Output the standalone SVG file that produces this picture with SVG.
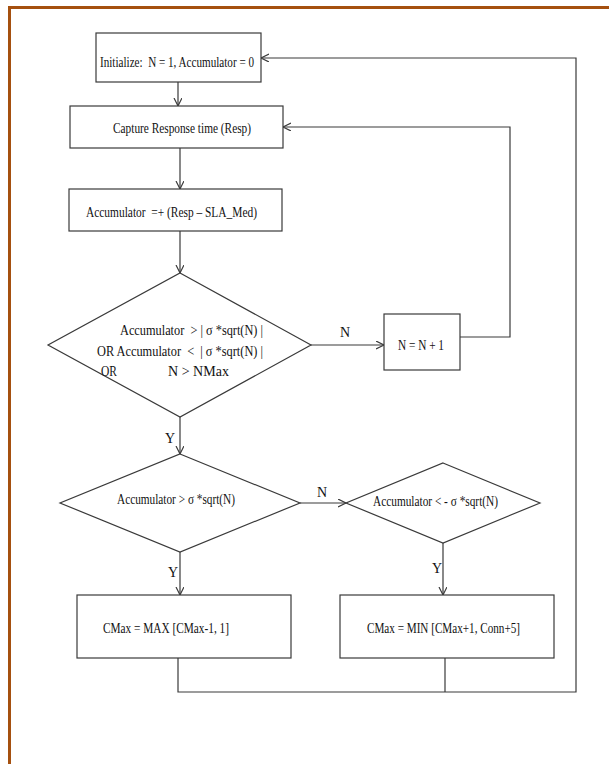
<svg xmlns="http://www.w3.org/2000/svg" width="609" height="764" viewBox="0 0 609 764">
<style>
.box{fill:#fff;stroke:#3a3a3a;stroke-width:1.2}
.ln{fill:none;stroke:#3a3a3a;stroke-width:1.2}
.t{font-family:"Liberation Serif","Times New Roman",serif;font-size:15.5px;fill:#111}
.lb{font-family:"Liberation Serif","Times New Roman",serif;font-size:14px;fill:#111}
</style>
<defs>
<marker id="ah" markerUnits="userSpaceOnUse" markerWidth="10" markerHeight="10" refX="8" refY="4" orient="auto">
<path d="M0,0 L8,4 L0,8" fill="none" stroke="#3a3a3a" stroke-width="1.2"/>
</marker>
</defs>
<rect width="609" height="764" fill="#fff"/>
<path d="M9.5,770 V7.5 H615" fill="none" stroke="#a5500f" stroke-width="3"/>

<g id="connectors">
<path class="ln" d="M178,82 V106" marker-end="url(#ah)"/>
<path class="ln" d="M180,148 V189" marker-end="url(#ah)"/>
<path class="ln" d="M180,231 V273" marker-end="url(#ah)"/>
<path class="ln" d="M311,345 H384" marker-end="url(#ah)"/>
<path class="ln" d="M460,337 H510 V127 H283" marker-end="url(#ah)"/>
<path class="ln" d="M180,417 V454" marker-end="url(#ah)"/>
<path class="ln" d="M300,503 H346" marker-end="url(#ah)"/>
<path class="ln" d="M180,552 V595" marker-end="url(#ah)"/>
<path class="ln" d="M443,543 V595" marker-end="url(#ah)"/>
<path class="ln" d="M178,658 V692 H576 V58 H261" marker-end="url(#ah)"/>
<path class="ln" d="M445,658 V692"/>
<text class="lb" x="340" y="337">N</text>
<text class="lb" x="317" y="497">N</text>
<text class="lb" x="165" y="443">Y</text>
<text class="lb" x="168" y="577">Y</text>
<text class="lb" x="432" y="573">Y</text>
</g>

<g id="init">
<rect class="box" x="96" y="33" width="165" height="49"/>
<text class="t" x="100" y="67" xml:space="preserve" textLength="154" lengthAdjust="spacingAndGlyphs">Initialize:  N = 1, Accumulator = 0</text>
</g>
<g id="capture">
<rect class="box" x="70" y="106" width="213" height="42"/>
<text class="t" x="113" y="133" textLength="138" lengthAdjust="spacingAndGlyphs">Capture Response time (Resp)</text>
</g>
<g id="accumulate">
<rect class="box" x="69" y="189" width="213" height="42"/>
<text class="t" x="86" y="217" xml:space="preserve" textLength="171" lengthAdjust="spacingAndGlyphs">Accumulator  =+ (Resp – SLA_Med)</text>
</g>
<g id="decision1">
<polygon class="box" points="180,273 311,345 180,417 48,345"/>
<text class="t" x="120" y="335" xml:space="preserve" textLength="143" lengthAdjust="spacingAndGlyphs">Accumulator  &gt; | σ *sqrt(N) |</text>
<text class="t" x="97" y="356" xml:space="preserve" textLength="166" lengthAdjust="spacingAndGlyphs">OR Accumulator  &lt;  | σ *sqrt(N) |</text>
<text class="t" x="101" y="376" textLength="16" lengthAdjust="spacingAndGlyphs">OR</text>
<text class="t" x="168" y="376" textLength="61" lengthAdjust="spacingAndGlyphs">N &gt; NMax</text>
</g>
<g id="increment">
<rect class="box" x="384" y="314" width="76" height="56"/>
<text class="t" x="398" y="350" textLength="46" lengthAdjust="spacingAndGlyphs">N = N + 1</text>
</g>
<g id="decision2">
<polygon class="box" points="180,454 300,503 180,552 60,503"/>
<text class="t" x="117" y="504" textLength="118" lengthAdjust="spacingAndGlyphs">Accumulator &gt; σ *sqrt(N)</text>
</g>
<g id="decision3">
<polygon class="box" points="443,463 540,503 443,543 346,503"/>
<text class="t" x="373" y="506" textLength="125" lengthAdjust="spacingAndGlyphs">Accumulator &lt; - σ *sqrt(N)</text>
</g>
<g id="cmax-dec">
<rect class="box" x="77" y="595" width="214" height="63"/>
<text class="t" x="103" y="633" textLength="126" lengthAdjust="spacingAndGlyphs">CMax = MAX [CMax-1, 1]</text>
</g>
<g id="cmax-inc">
<rect class="box" x="340" y="595" width="214" height="63"/>
<text class="t" x="367" y="633" textLength="153" lengthAdjust="spacingAndGlyphs">CMax = MIN [CMax+1, Conn+5]</text>
</g>
</svg>
